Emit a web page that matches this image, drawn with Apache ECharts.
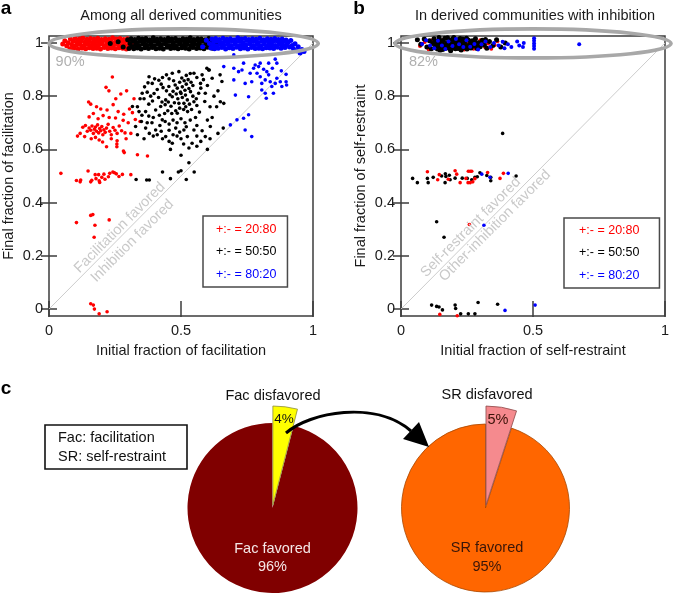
<!DOCTYPE html>
<html><head><meta charset="utf-8">
<script src="https://cdn.jsdelivr.net/npm/echarts@6/dist/echarts.min.js"></script>
<style>html,body{margin:0;padding:0;background:#fff}#c{width:675px;height:593px}</style>
</head><body><div id="c"></div>
<script>
const FONT = "'Liberation Sans', Arial, Helvetica, sans-serif";
const groupNames = ['+:- = 20:80', '+:- = 50:50', '+:- = 80:20'];
const groupColors = ['#ff0000', '#000000', '#0000ff'];
const yTickValues = [0, 0.2, 0.4, 0.6, 0.8, 1];
const panelTitles = ['Among all derived communities', 'In derived communities with inhibition'];
const xNames = ['Initial fraction of facilitation', 'Initial fraction of self-restraint'];
const yNames = ['Final fraction of facilitation', 'Final fraction of self-restraint'];
const bandShares = ['90%', '82%'];
const diagLabelsA = ['Facilitation favored', 'Inhibition favored'];
const diagLabelsB = ['Self-restraint favored', 'Other-inhibition favored'];
const diagonal = [[0, 0], [1, 1]];

// Panel a : points near final fraction 1
const redBandA = [[0.052,0.996],[0.060,1.008],[0.067,0.989],[0.073,1.001],[0.079,0.978],[0.081,1.016],[0.086,0.993],[0.091,1.006],[0.094,0.980],[0.099,1.018],[0.103,0.991],[0.107,1.004],[0.110,0.977],[0.115,1.015],[0.118,0.994],[0.121,1.007],[0.125,0.981],[0.128,1.019],[0.133,0.990],[0.136,1.003],[0.139,0.978],[0.143,1.014],[0.147,0.995],[0.150,1.008],[0.153,0.982],[0.157,1.017],[0.160,0.989],[0.164,1.002],[0.167,0.979],[0.171,1.015],[0.174,0.993],[0.178,1.006],[0.181,0.980],[0.185,1.018],[0.188,0.992],[0.192,1.004],[0.195,0.977],[0.199,1.013],[0.202,0.996],[0.206,1.009],[0.209,0.983],[0.213,1.016],[0.216,0.990],[0.220,1.003],[0.223,0.979],[0.227,1.014],[0.230,0.994],[0.234,1.007],[0.237,0.981],[0.241,1.019],[0.244,0.991],[0.248,1.002],[0.251,0.978],[0.255,1.015],[0.258,0.995],[0.262,1.008],[0.265,0.982],[0.269,1.017],[0.272,0.989],[0.276,1.005],[0.279,0.980],[0.283,1.013],[0.286,0.993],[0.290,1.006],[0.293,0.977],[0.297,1.016],[0.301,0.990],[0.305,1.003],[0.309,0.984],[0.314,1.011],[0.320,0.995],[0.328,1.002],[0.336,0.988]];
const blackBandA = [[0.232,0.998],[0.262,1.004],[0.281,0.985],[0.298,1.012],[0.303,0.979],[0.307,0.998],[0.311,1.016],[0.314,0.987],[0.318,1.006],[0.321,0.978],[0.325,1.013],[0.328,0.993],[0.332,1.002],[0.335,0.981],[0.339,1.018],[0.342,0.990],[0.346,1.007],[0.349,0.977],[0.353,1.015],[0.356,0.996],[0.360,1.004],[0.363,0.982],[0.367,1.017],[0.370,0.991],[0.374,1.008],[0.377,0.979],[0.381,1.012],[0.384,0.994],[0.388,1.003],[0.391,0.983],[0.395,1.019],[0.398,0.989],[0.402,1.006],[0.405,0.978],[0.409,1.014],[0.412,0.995],[0.416,1.001],[0.419,0.980],[0.423,1.016],[0.426,0.992],[0.430,1.009],[0.433,0.977],[0.437,1.013],[0.440,0.997],[0.444,1.004],[0.447,0.984],[0.451,1.018],[0.454,0.990],[0.458,1.007],[0.461,0.979],[0.465,1.015],[0.468,0.993],[0.472,1.002],[0.475,0.981],[0.479,1.017],[0.482,0.988],[0.486,1.005],[0.489,0.978],[0.493,1.012],[0.496,0.996],[0.500,1.008],[0.503,0.982],[0.507,1.016],[0.510,0.991],[0.514,1.003],[0.517,0.980],[0.521,1.014],[0.524,0.994],[0.528,1.006],[0.531,0.977],[0.535,1.019],[0.538,0.990],[0.542,1.004],[0.545,0.983],[0.549,1.013],[0.552,0.995],[0.556,1.009],[0.559,0.979],[0.563,1.016],[0.566,0.992],[0.570,1.002],[0.573,0.981],[0.577,1.015],[0.580,0.989],[0.584,1.007],[0.587,0.978],[0.591,1.012],[0.594,0.996],[0.598,1.004],[0.601,0.984],[0.605,1.017],[0.609,0.991],[0.614,1.006],[0.619,0.980],[0.625,1.011],[0.633,0.994],[0.642,1.003]];
const blueBandA = [[0.582,0.986],[0.596,1.010],[0.608,0.998],[0.613,0.981],[0.617,1.015],[0.620,0.992],[0.624,1.004],[0.627,0.978],[0.631,1.017],[0.634,0.989],[0.638,1.007],[0.641,0.980],[0.645,1.013],[0.648,0.995],[0.652,1.002],[0.655,0.983],[0.659,1.018],[0.662,0.991],[0.666,1.006],[0.669,0.977],[0.673,1.014],[0.676,0.994],[0.680,1.003],[0.683,0.982],[0.687,1.016],[0.690,0.990],[0.694,1.008],[0.697,0.979],[0.701,1.012],[0.704,0.996],[0.708,1.004],[0.711,0.984],[0.715,1.019],[0.718,0.988],[0.722,1.005],[0.725,0.978],[0.729,1.015],[0.732,0.993],[0.736,1.001],[0.739,0.981],[0.743,1.017],[0.746,0.992],[0.750,1.009],[0.753,0.977],[0.757,1.013],[0.760,0.997],[0.764,1.004],[0.767,0.983],[0.771,1.016],[0.774,0.990],[0.778,1.007],[0.781,0.979],[0.785,1.014],[0.788,0.994],[0.792,1.002],[0.795,0.980],[0.799,1.018],[0.802,0.989],[0.806,1.006],[0.809,0.978],[0.813,1.012],[0.816,0.995],[0.820,1.008],[0.823,0.982],[0.827,1.016],[0.830,0.991],[0.834,1.003],[0.837,0.981],[0.841,1.014],[0.844,0.993],[0.848,1.005],[0.851,0.979],[0.855,1.017],[0.858,0.990],[0.862,1.008],[0.865,0.984],[0.869,1.013],[0.872,0.996],[0.876,1.001],[0.879,0.980],[0.883,1.015],[0.886,0.992],[0.890,1.006],[0.894,0.983],[0.898,1.011],[0.902,0.994],[0.906,1.003],[0.911,0.985],[0.916,1.009],[0.921,0.990],[0.926,0.978],[0.932,0.997],[0.938,0.971],[0.944,0.986],[0.951,0.962],[0.958,0.975],[0.966,0.968]];

// Panel a : scattered points
const redScatterA = [[0.240,0.872],[0.216,0.833],[0.227,0.820],[0.294,0.820],[0.272,0.808],[0.150,0.778],[0.158,0.770],[0.253,0.790],[0.322,0.790],[0.243,0.768],[0.180,0.760],[0.196,0.752],[0.220,0.748],[0.262,0.742],[0.283,0.732],[0.305,0.752],[0.316,0.738],[0.152,0.722],[0.168,0.735],[0.186,0.715],[0.205,0.727],[0.228,0.720],[0.252,0.718],[0.281,0.709],[0.300,0.700],[0.327,0.712],[0.345,0.705],[0.128,0.683],[0.138,0.690],[0.145,0.668],[0.152,0.680],[0.158,0.672],[0.163,0.688],[0.168,0.660],[0.172,0.676],[0.176,0.684],[0.180,0.668],[0.184,0.692],[0.188,0.662],[0.192,0.678],[0.196,0.670],[0.200,0.686],[0.204,0.655],[0.208,0.674],[0.213,0.664],[0.218,0.680],[0.224,0.694],[0.230,0.668],[0.236,0.655],[0.243,0.682],[0.250,0.672],[0.258,0.660],[0.266,0.688],[0.275,0.670],[0.288,0.662],[0.108,0.650],[0.118,0.660],[0.135,0.648],[0.160,0.640],[0.176,0.645],[0.190,0.635],[0.203,0.628],[0.236,0.640],[0.258,0.632],[0.292,0.640],[0.310,0.660],[0.218,0.610],[0.257,0.620],[0.257,0.610],[0.282,0.594],[0.285,0.588],[0.335,0.580],[0.373,0.575],[0.045,0.510],[0.104,0.483],[0.118,0.478],[0.120,0.485],[0.148,0.519],[0.158,0.478],[0.162,0.484],[0.175,0.505],[0.178,0.490],[0.188,0.505],[0.190,0.482],[0.192,0.476],[0.200,0.495],[0.208,0.507],[0.212,0.488],[0.225,0.497],[0.230,0.510],[0.242,0.515],[0.248,0.512],[0.255,0.508],[0.265,0.498],[0.278,0.506],[0.310,0.505],[0.104,0.325],[0.158,0.352],[0.166,0.355],[0.174,0.315],[0.171,0.270],[0.228,0.335],[0.158,0.020],[0.168,0.015],[0.172,0.000],[0.190,-0.018],[0.220,-0.010]];
const blackScatterA = [[0.379,0.873],[0.391,0.848],[0.416,0.860],[0.353,0.811],[0.341,0.742],[0.366,0.742],[0.404,0.748],[0.423,0.761],[0.442,0.786],[0.467,0.798],[0.492,0.773],[0.486,0.736],[0.429,0.711],[0.404,0.673],[0.366,0.680],[0.328,0.686],[0.442,0.648],[0.467,0.623],[0.316,0.761],[0.467,0.886],[0.492,0.892],[0.454,0.836],[0.486,0.830],[0.500,0.810],[0.549,0.886],[0.580,0.880],[0.574,0.848],[0.530,0.829],[0.536,0.817],[0.517,0.804],[0.524,0.786],[0.511,0.773],[0.549,0.779],[0.567,0.811],[0.592,0.811],[0.618,0.867],[0.605,0.898],[0.655,0.855],[0.649,0.779],[0.662,0.773],[0.611,0.686],[0.549,0.673],[0.511,0.673],[0.524,0.648],[0.592,0.648],[0.542,0.623],[0.455,0.865],[0.472,0.858],[0.478,0.842],[0.495,0.852],[0.503,0.868],[0.512,0.858],[0.520,0.845],[0.527,0.862],[0.538,0.852],[0.545,0.840],[0.505,0.835],[0.515,0.822],[0.498,0.815],[0.482,0.808],[0.470,0.818],[0.458,0.805],[0.445,0.820],[0.432,0.832],[0.425,0.845],[0.410,0.825],[0.398,0.810],[0.385,0.800],[0.372,0.815],[0.360,0.790],[0.378,0.770],[0.392,0.782],[0.415,0.795],[0.428,0.778],[0.440,0.768],[0.452,0.778],[0.462,0.762],[0.475,0.775],[0.488,0.790],[0.505,0.795],[0.518,0.760],[0.532,0.770],[0.545,0.800],[0.558,0.790],[0.560,0.765],[0.540,0.750],[0.525,0.742],[0.510,0.750],[0.495,0.755],[0.480,0.745],[0.465,0.735],[0.450,0.745],[0.438,0.735],[0.418,0.728],[0.395,0.720],[0.378,0.725],[0.352,0.728],[0.335,0.760],[0.345,0.790],[0.362,0.835],[0.375,0.850],[0.400,0.865],[0.430,0.870],[0.445,0.880],[0.520,0.878],[0.535,0.885],[0.560,0.870],[0.585,0.862],[0.600,0.840],[0.575,0.830],[0.590,0.780],[0.610,0.760],[0.625,0.800],[0.640,0.820],[0.635,0.760],[0.570,0.740],[0.555,0.720],[0.535,0.710],[0.515,0.700],[0.500,0.715],[0.485,0.700],[0.470,0.710],[0.455,0.695],[0.440,0.705],[0.420,0.690],[0.390,0.700],[0.372,0.700],[0.350,0.705],[0.410,0.655],[0.425,0.668],[0.455,0.672],[0.480,0.680],[0.495,0.665],[0.520,0.685],[0.560,0.690],[0.580,0.670],[0.600,0.710],[0.618,0.720],[0.660,0.680],[0.640,0.660],[0.610,0.640],[0.575,0.630],[0.560,0.650],[0.500,0.640],[0.485,0.650],[0.470,0.655],[0.455,0.630],[0.430,0.640],[0.395,0.650],[0.380,0.660],[0.510,0.620],[0.530,0.605],[0.560,0.612],[0.460,0.600],[0.500,0.578],[0.600,0.600],[0.530,0.550],[0.360,0.640],[0.335,0.655],[0.598,0.905],[0.607,0.898],[0.648,0.880],[0.330,0.487],[0.370,0.485],[0.380,0.485],[0.430,0.515],[0.460,0.490],[0.490,0.515],[0.500,0.520],[0.520,0.487],[0.550,0.515]];
const blueScatterA = [[0.700,0.955],[0.662,0.911],[0.700,0.905],[0.737,0.924],[0.718,0.892],[0.731,0.898],[0.762,0.886],[0.781,0.917],[0.794,0.911],[0.800,0.924],[0.788,0.886],[0.813,0.901],[0.832,0.924],[0.857,0.939],[0.863,0.924],[0.800,0.873],[0.806,0.848],[0.819,0.861],[0.832,0.880],[0.825,0.892],[0.838,0.854],[0.844,0.836],[0.857,0.848],[0.863,0.867],[0.876,0.854],[0.898,0.882],[0.898,0.854],[0.900,0.842],[0.882,0.836],[0.806,0.823],[0.819,0.811],[0.823,0.792],[0.850,0.811],[0.743,0.848],[0.768,0.854],[0.756,0.798],[0.706,0.804],[0.700,0.861],[0.712,0.711],[0.737,0.717],[0.756,0.730],[0.687,0.692],[0.743,0.673],[0.768,0.648],[0.775,0.905],[0.846,0.905],[0.880,0.895]];

// Panel b : points near final fraction 1
const blackBandB = [[0.062,1.012],[0.075,0.995],[0.088,1.015],[0.098,0.985],[0.108,1.008],[0.115,0.978],[0.120,0.998],[0.125,1.016],[0.130,0.986],[0.134,1.005],[0.138,0.977],[0.142,0.995],[0.146,1.013],[0.150,0.983],[0.154,1.003],[0.158,0.975],[0.162,0.992],[0.166,1.018],[0.170,0.980],[0.174,1.000],[0.178,0.988],[0.182,1.010],[0.186,0.976],[0.190,0.996],[0.194,1.014],[0.198,0.984],[0.202,1.004],[0.206,0.978],[0.210,0.993],[0.214,1.012],[0.218,0.987],[0.222,1.002],[0.226,0.976],[0.230,0.997],[0.234,1.015],[0.238,0.982],[0.242,1.006],[0.246,0.990],[0.250,0.977],[0.255,1.011],[0.260,0.995],[0.265,0.981],[0.270,1.008],[0.276,0.988],[0.282,1.016],[0.288,0.979],[0.294,1.001],[0.300,0.986],[0.308,1.010],[0.316,0.992],[0.325,0.980],[0.335,1.005],[0.348,0.990],[0.362,1.012],[0.378,0.985],[0.395,1.000],[0.128,1.002],[0.136,0.990],[0.144,1.020],[0.152,0.998],[0.160,1.008],[0.168,0.987],[0.176,1.019],[0.184,1.002],[0.192,0.979],[0.200,1.020],[0.208,0.999],[0.216,0.979],[0.224,1.017],[0.232,0.986],[0.240,1.000],[0.248,1.018],[0.257,0.984],[0.268,0.997],[0.279,1.003],[0.291,0.990],[0.304,1.001],[0.320,1.013],[0.148,0.972],[0.188,0.971],[0.228,0.973]];
const redBandB = [[0.072,0.988],[0.090,1.003],[0.105,0.975],[0.118,1.010],[0.132,0.996],[0.145,0.980],[0.160,1.012],[0.172,0.990],[0.185,0.978],[0.200,1.000],[0.212,0.980],[0.228,1.008],[0.240,0.975],[0.252,0.996],[0.264,1.006],[0.275,0.978],[0.290,0.992],[0.300,1.010],[0.318,0.985],[0.330,0.998],[0.342,0.978],[0.355,0.992],[0.365,1.006]];
const blueBandB = [[0.080,0.996],[0.095,1.010],[0.110,0.990],[0.126,0.980],[0.140,1.008],[0.155,0.990],[0.168,0.977],[0.180,1.005],[0.195,0.988],[0.208,1.015],[0.220,0.995],[0.236,0.985],[0.248,1.010],[0.262,0.986],[0.278,0.996],[0.292,0.975],[0.305,0.995],[0.320,1.005],[0.338,0.985],[0.352,1.000],[0.370,0.990],[0.385,1.004],[0.392,0.980],[0.405,0.995],[0.418,0.985],[0.440,1.005],[0.448,0.990],[0.462,0.985],[0.465,1.000],[0.504,1.018],[0.504,1.008],[0.504,0.998],[0.504,0.988],[0.504,0.978],[0.675,0.995]];

// Panel b : scattered points
const blackScatterB = [[0.044,0.491],[0.062,0.475],[0.100,0.491],[0.103,0.475],[0.122,0.495],[0.154,0.500],[0.168,0.508],[0.170,0.498],[0.183,0.503],[0.167,0.475],[0.186,0.486],[0.205,0.492],[0.232,0.492],[0.251,0.491],[0.268,0.486],[0.280,0.495],[0.289,0.497],[0.299,0.512],[0.325,0.502],[0.340,0.482],[0.340,0.495],[0.436,0.500],[0.135,0.328],[0.163,0.270],[0.385,0.660],[0.116,0.015],[0.135,0.010],[0.144,0.008],[0.157,-0.003],[0.205,0.015],[0.207,0.002],[0.226,-0.018],[0.255,-0.018],[0.280,-0.018],[0.292,0.025],[0.366,0.018]];
const redScatterB = [[0.100,0.516],[0.139,0.486],[0.145,0.505],[0.179,0.488],[0.205,0.520],[0.211,0.507],[0.224,0.475],[0.246,0.491],[0.255,0.518],[0.262,0.518],[0.268,0.518],[0.254,0.475],[0.262,0.475],[0.272,0.478],[0.280,0.490],[0.328,0.513],[0.375,0.491],[0.388,0.510],[0.259,0.318],[0.147,-0.020],[0.213,-0.025]];
const blueScatterB = [[0.306,0.507],[0.337,0.495],[0.406,0.510],[0.314,0.315],[0.394,-0.005],[0.508,0.015]];

// Panel c : pies
const facLabels = ['Fac disfavored', 'Fac favored'];
const facValues = [4, 96];
const srLabels = ['SR disfavored', 'SR favored'];
const srValues = [5, 95];
const boxLines = ['Fac: facilitation', 'SR: self-restraint'];

const chart = echarts.init(document.getElementById('c'), null, {renderer: 'canvas'});
const TXT = '#1a1a1a', FRAME = '#3d3d3d';

function xAx(gi, pos, name) {
  return {
    gridIndex: gi, type: 'value', min: 0, max: 1, interval: 0.5, position: pos,
    axisLine: {show: false}, splitLine: {show: false},
    axisTick: {show: true, inside: true, length: 8, lineStyle: {color: FRAME, width: 1.5}},
    axisLabel: {show: pos === 'bottom', margin: 7, fontSize: 14.5, color: TXT, fontFamily: FONT},
    name: name || '', nameLocation: 'middle', nameGap: 27,
    nameTextStyle: {fontSize: 14.5, color: TXT, fontFamily: FONT}
  };
}
function yAx(gi, pos, name) {
  return {
    gridIndex: gi, type: 'value', min: -0.026, max: 1.026, position: pos,
    axisLine: {show: false}, splitLine: {show: false},
    axisTick: {show: true, inside: true, length: 8, customValues: yTickValues, lineStyle: {color: FRAME, width: 1.5}},
    axisLabel: {show: pos === 'left', margin: 6, customValues: yTickValues, fontSize: 14.5, color: TXT, fontFamily: FONT},
    name: name || '', nameLocation: 'middle', nameGap: 33,
    nameTextStyle: {fontSize: 14.5, color: TXT, fontFamily: FONT}
  };
}
function scat(name, color, data, xi, yi, size) {
  return {type: 'scatter', name, xAxisIndex: xi, yAxisIndex: yi, data,
    symbol: 'circle', symbolSize: size, itemStyle: {color, opacity: 1}, silent: true, z: 3};
}
function diag(xi, yi) {
  return {type: 'line', xAxisIndex: xi, yAxisIndex: yi, data: diagonal, symbol: 'none',
    lineStyle: {color: '#cccccc', width: 1}, silent: true, z: 1};
}
function legendBox(left, top, padding) {
  return {
    left, top, orient: 'vertical', icon: 'circle', itemWidth: 0, itemHeight: 14, itemGap: 9.5,
    padding, borderColor: '#4a4a4a', borderWidth: 1.5, backgroundColor: '#fff', selectedMode: false,
    textStyle: {fontSize: 12.5, fontFamily: FONT},
    itemStyle: {borderWidth: 0},
    data: groupNames.map((n, i) => ({name: n, textStyle: {color: groupColors[i]}}))
  };
}

const BAND = 5, DOT = 3.6;
const option = {
  animation: false,
  textStyle: {fontFamily: FONT},
  title: [
    {text: panelTitles[0], left: 181, top: 8, textAlign: 'center', padding: 0, textStyle: {fontSize: 14.5, fontWeight: 'normal', color: TXT, fontFamily: FONT}},
    {text: panelTitles[1], left: 535, top: 8, textAlign: 'center', padding: 0, textStyle: {fontSize: 14.5, fontWeight: 'normal', color: TXT, fontFamily: FONT}}
  ],
  legend: [legendBox(203, 216, [7, 11, 6, 8]), legendBox(564, 218, [6, 20, 6, 10])],
  grid: [
    {left: 48, top: 36, width: 265, height: 280, show: true, borderColor: FRAME, borderWidth: 1.5, backgroundColor: 'transparent'},
    {left: 401, top: 36, width: 264, height: 280, show: true, borderColor: FRAME, borderWidth: 1.5, backgroundColor: 'transparent'}
  ],
  xAxis: [xAx(0, 'bottom', xNames[0]), xAx(0, 'top'), xAx(1, 'bottom', xNames[1]), xAx(1, 'top')],
  yAxis: [yAx(0, 'left', yNames[0]), yAx(0, 'right'), yAx(1, 'left', yNames[1]), yAx(1, 'right')],
  series: [
    diag(0, 0), diag(2, 2),
    scat(groupNames[0], groupColors[0], redBandA, 0, 0, BAND),
    scat(groupNames[0], groupColors[0], redScatterA, 0, 0, DOT),
    scat(groupNames[1], groupColors[1], blackBandA, 0, 0, BAND),
    scat(groupNames[1], groupColors[1], blackScatterA, 0, 0, DOT),
    scat(groupNames[2], groupColors[2], blueBandA, 0, 0, BAND),
    scat(groupNames[2], groupColors[2], blueScatterA, 0, 0, DOT),
    scat(groupNames[0], groupColors[0], redBandB, 2, 2, 4),
    scat(groupNames[1], groupColors[1], blackBandB, 2, 2, BAND),
    scat(groupNames[1], groupColors[1], blackScatterB, 2, 2, DOT),
    scat(groupNames[0], groupColors[0], redScatterB, 2, 2, DOT),
    scat(groupNames[2], groupColors[2], blueBandB, 2, 2, 4),
    scat(groupNames[2], groupColors[2], blueScatterB, 2, 2, DOT),
    {type: 'pie', center: [272.5, 508], radius: 85, startAngle: 90, clockwise: true, silent: true,
      label: {show: false}, labelLine: {show: false}, emphasis: {disabled: true},
      data: [{name: facLabels[0], value: facValues[0], itemStyle: {color: 'transparent'}},
             {name: facLabels[1], value: facValues[1], itemStyle: {color: '#800000'}}]},
    {type: 'pie', center: [272.5, 508], radius: 99, startAngle: 90, clockwise: true, silent: true,
      selectedMode: 'single', selectedOffset: 3,
      label: {show: false}, labelLine: {show: false}, emphasis: {disabled: true},
      data: [{name: facLabels[0], value: facValues[0], selected: true, itemStyle: {color: '#ffff00', borderColor: '#8c8c3c', borderWidth: 0.8}},
             {name: facLabels[1], value: facValues[1], itemStyle: {color: 'transparent', borderWidth: 0}}]},
    {type: 'pie', center: [485.5, 508], radius: 84, startAngle: 90, clockwise: true, silent: true,
      label: {show: false}, labelLine: {show: false}, emphasis: {disabled: true},
      data: [{name: srLabels[0], value: srValues[0], itemStyle: {color: 'transparent'}},
             {name: srLabels[1], value: srValues[1], itemStyle: {color: '#ff6600', borderColor: '#a84800', borderWidth: 0.8}}]},
    {type: 'pie', center: [485.5, 508], radius: 99, startAngle: 90, clockwise: true, silent: true,
      selectedMode: 'single', selectedOffset: 3,
      label: {show: false}, labelLine: {show: false}, emphasis: {disabled: true},
      data: [{name: srLabels[0], value: srValues[0], selected: true, itemStyle: {color: '#f58a8e', borderColor: '#8a4a4a', borderWidth: 0.8}},
             {name: srLabels[1], value: srValues[1], itemStyle: {color: 'transparent', borderWidth: 0}}]}
  ]
};
chart.setOption(option);

function P(ax, pt) { return chart.convertToPixel({xAxisIndex: ax, yAxisIndex: ax}, pt); }
function txt(x, y, text, size, color, extra) {
  return Object.assign({type: 'text', x, y, silent: true, z: 100,
    style: Object.assign({text, fill: color, fontSize: size, fontFamily: FONT,
      align: 'center', verticalAlign: 'middle', textAlign: 'center', textVerticalAlign: 'middle'}, (extra && extra.style) || {})},
    extra && extra.rotation != null ? {rotation: extra.rotation} : {});
}
function ellipse(ax, cxData, rxData) {
  const c = P(ax, [cxData, 1]);
  const e = P(ax, [cxData + rxData, 1]);
  return {type: 'ellipse', silent: true, z: 90, shape: {cx: c[0], cy: c[1] + 0.5, rx: e[0] - c[0], ry: 14.5},
    style: {fill: 'none', stroke: '#a8a8a8', lineWidth: 3.6}};
}
const R = Math.PI / 4;
const gA1 = P(0, [0.268, 0.306]), gA2 = P(0, [0.316, 0.256]);
const gB1 = P(2, [0.264, 0.307]), gB2 = P(2, [0.356, 0.313]);
const sA = P(0, [0.08, 0.93]), sB = P(2, [0.085, 0.93]);

const graphics = [
  txt(6, 9, 'a', 19, '#000', {style: {fontWeight: 'bold'}}),
  txt(359, 9, 'b', 19, '#000', {style: {fontWeight: 'bold'}}),
  txt(6, 389, 'c', 19, '#000', {style: {fontWeight: 'bold'}}),
  ellipse(0, 0.51, 0.51),
  ellipse(2, 0.50, 0.523),
  txt(sA[0], sA[1], bandShares[0], 14.5, '#b0b0b0'),
  txt(sB[0], sB[1], bandShares[1], 14.5, '#b0b0b0'),
  txt(gA1[0], gA1[1], diagLabelsA[0], 14.5, '#c9c9c9', {rotation: R}),
  txt(gA2[0], gA2[1], diagLabelsA[1], 14.5, '#c9c9c9', {rotation: R}),
  txt(gB1[0], gB1[1], diagLabelsB[0], 14.5, '#c9c9c9', {rotation: R}),
  txt(gB2[0], gB2[1], diagLabelsB[1], 14.5, '#c9c9c9', {rotation: R}),
  {type: 'rect', silent: true, z: 50, shape: {x: 45, y: 425, width: 142, height: 44},
    style: {fill: '#fff', stroke: '#111', lineWidth: 1.6}},
  txt(58, 438, boxLines[0], 14.5, '#111', {style: {align: 'left', textAlign: 'left'}}),
  txt(58, 457, boxLines[1], 14.5, '#111', {style: {align: 'left', textAlign: 'left'}}),
  txt(273, 396, facLabels[0], 14.5, '#111'),
  txt(284, 419, facValues[0] + '%', 13.5, '#111'),
  txt(272.5, 549, facLabels[1], 14.5, '#f4e6e6'),
  txt(272.5, 567, facValues[1] + '%', 14.5, '#f4e6e6'),
  txt(487, 395, srLabels[0], 14.5, '#111'),
  txt(498, 420, srValues[0] + '%', 14.5, '#3a1208'),
  txt(487, 548, srLabels[1], 14.5, '#3a1608'),
  txt(487, 567, srValues[1] + '%', 14.5, '#3a1608'),
  {type: 'bezierCurve', silent: true, z: 95,
    shape: {x1: 286, y1: 433, cpx1: 310, cpy1: 412, cpx2: 375, cpy2: 400, x2: 411, y2: 431},
    style: {stroke: '#000', lineWidth: 3, fill: 'none'}},
  {type: 'polygon', silent: true, z: 96, shape: {points: [[403, 439], [419, 422], [429, 447]]},
    style: {fill: '#000'}}
];
chart.setOption({graphic: graphics});
</script>
</body></html>
